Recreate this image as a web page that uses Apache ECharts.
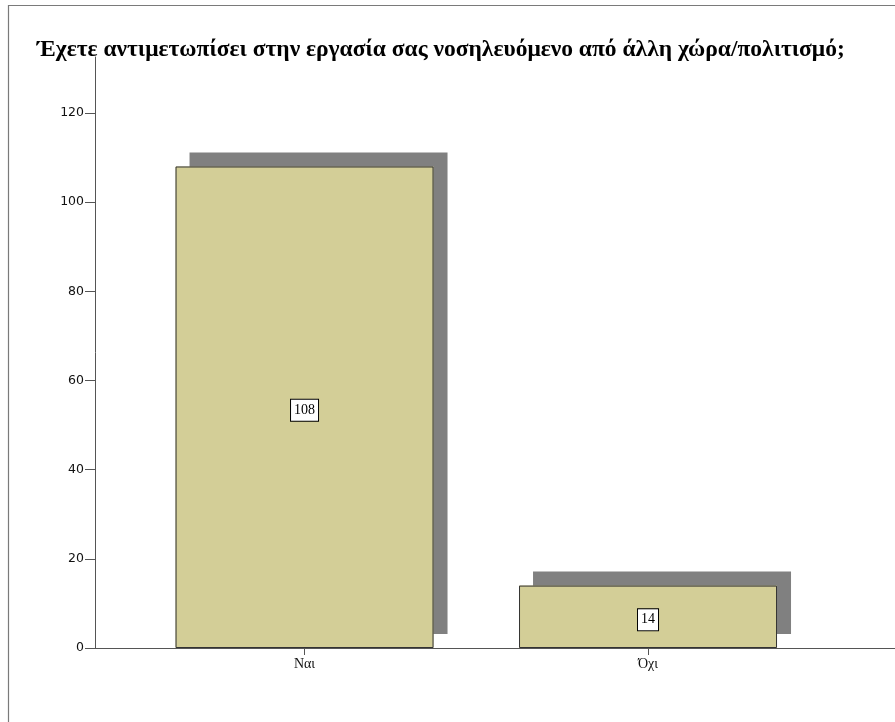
<!DOCTYPE html>
<html><head><meta charset="utf-8">
<script src="https://cdn.jsdelivr.net/npm/echarts@6/dist/echarts.min.js"></script>
<style>html,body{margin:0;padding:0;background:#fff}#c{width:895px;height:722px}</style>
</head><body><div id="c"></div>
<script>
const titleText = 'Έχετε αντιμετωπίσει στην εργασία σας νοσηλευόμενο από άλλη χώρα/πολιτισμό;';
const categories = ['Ναι', 'Όχι'];
const counts = [108, 14];
const yTicks = [0, 20, 40, 60, 80, 100, 120];

const chart = echarts.init(document.getElementById('c'), null, {renderer: 'canvas'});
const catPos = categories.map((c, i) => i + 1);
const seriesData = counts.map((v, i) => [catPos[i], v]);
chart.setOption({
  animation: false,
  backgroundColor: '#ffffff',
  title: {
    text: titleText, left: 32, top: 33,
    textStyle: {fontFamily: 'Liberation Serif', fontWeight: 'bold', fontSize: 23.5, color: '#000'}
  },
  graphic: [{
    type: 'rect', shape: {x: 8.5, y: 5.5, width: 1000, height: 1000},
    style: {fill: 'none', stroke: '#7a7a7a', lineWidth: 1.2}, silent: true, z: 100
  }],
  grid: {left: 95, right: 0, top: 57, bottom: 74},
  xAxis: {
    type: 'value', min: 0.39, max: 2.719,
    splitLine: {show: false},
    axisLine: {show: true, onZero: false, lineStyle: {color: '#555', width: 1}},
    axisTick: {show: true, customValues: catPos, length: 7, lineStyle: {color: '#555'}},
    axisLabel: {
      customValues: catPos, margin: 9,
      formatter: v => categories[Math.round(v) - 1] || '',
      fontFamily: 'Liberation Serif', fontSize: 14, color: '#111'
    }
  },
  yAxis: {
    type: 'value', min: 0, max: 132.56,
    splitLine: {show: false},
    axisLine: {show: true, lineStyle: {color: '#555', width: 1}},
    axisTick: {show: true, customValues: yTicks, length: 10, lineStyle: {color: '#555'}},
    axisLabel: {customValues: yTicks, margin: 11, fontFamily: 'DejaVu Sans', fontSize: 12.5, color: '#111'}
  },
  series: [{
    type: 'bar',
    data: seriesData,
    barWidth: 258,
    barGap: '-100%',
    itemStyle: {
      color: '#d3ce97', borderWidth: 0,
      shadowColor: '#808080', shadowOffsetX: 14, shadowOffsetY: -14, shadowBlur: 0
    }
  }, {
    type: 'bar',
    data: seriesData,
    barWidth: 258,
    barGap: '-100%',
    itemStyle: {color: 'rgba(0,0,0,0)', borderColor: '#333', borderWidth: 1},
    label: {
      show: true, position: 'inside',
      formatter: p => String(p.value[1]),
      fontFamily: 'Liberation Serif', fontSize: 14, color: '#000',
      backgroundColor: '#fff', borderColor: '#000', borderWidth: 1,
      padding: [4, 3, 3, 3], offset: [0, 3]
    }
  }]
});
</script></body></html>
